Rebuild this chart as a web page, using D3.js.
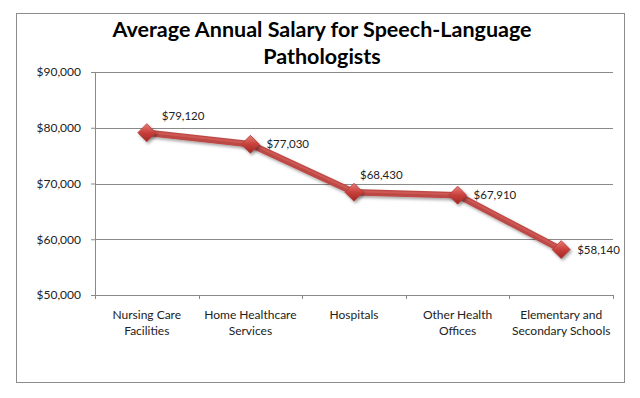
<!DOCTYPE html>
<html>
<head>
<meta charset="utf-8">
<script src="https://cdn.jsdelivr.net/npm/d3@7"></script>
<style>
  body { margin: 0; background: #fff; }
  text { font-family: Lato, "Open Sans", sans-serif; }
</style>
</head>
<body>
<div id="chart"></div>
<script>
const categories = [
    ["Nursing Care", "Facilities"],
    ["Home Healthcare", "Services"],
    ["Hospitals"],
    ["Other Health", "Offices"],
    ["Elementary and", "Secondary Schools"]
];
const salaries = [79120, 77030, 68430, 67910, 58140];
const yTicks = [50000, 60000, 70000, 80000, 90000];
const titleLines = ["Average Annual Salary for Speech-Language", "Pathologists"];
// where each data label sits relative to its point
const labelSide = ["aboveRight", "right", "above", "right", "right"];

const W = 640, H = 398;
const margin = { top: 72, right: 27, bottom: 103, left: 95 };
const width = W - margin.left - margin.right;
const height = H - margin.top - margin.bottom;

const svg = d3.select("#chart")
    .append("svg")
    .attr("width", W)
    .attr("height", H);

const defs = svg.append("defs");
const grad = defs.append("linearGradient")
    .attr("id", "diamondFill")
    .attr("x1", "0").attr("y1", "0").attr("x2", "0").attr("y2", "1");
grad.append("stop").attr("offset", "0%").attr("stop-color", "#ea7d78");
grad.append("stop").attr("offset", "50%").attr("stop-color", "#c8403b");
grad.append("stop").attr("offset", "100%").attr("stop-color", "#a02824");

const shadow = defs.append("filter").attr("id", "shadow")
    .attr("x", "-30%").attr("y", "-30%").attr("width", "160%").attr("height", "160%");
shadow.append("feDropShadow")
    .attr("dx", 1.5).attr("dy", 2).attr("stdDeviation", 1.5)
    .attr("flood-color", "#000").attr("flood-opacity", 0.35);

// chart frame
svg.append("rect")
    .attr("x", 16.5).attr("y", 13.5)
    .attr("width", 608).attr("height", 369)
    .attr("fill", "#fff")
    .attr("stroke", "#8c8c8c");

svg.append("text")
    .attr("x", 322)
    .attr("y", 37)
    .attr("text-anchor", "middle")
    .attr("font-weight", "bold")
    .attr("font-size", 21.5)
    .attr("fill", "#000")
    .selectAll("tspan")
    .data(titleLines)
    .join("tspan")
    .attr("x", 322)
    .attr("dy", (d, i) => i === 0 ? 0 : 27)
    .text(d => d);

const g = svg.append("g")
    .attr("transform", `translate(${margin.left},${margin.top})`);

const x = d3.scaleBand()
    .domain(d3.range(categories.length))
    .range([0, width]);

const y = d3.scaleLinear()
    .domain([50000, 90000])
    .range([height, 0]);

// gridlines
g.selectAll(".grid")
    .data(yTicks.slice(1))
    .join("line")
    .attr("class", "grid")
    .attr("x1", 0).attr("x2", width)
    .attr("y1", d => Math.round(y(d)) + 0.5)
    .attr("y2", d => Math.round(y(d)) + 0.5)
    .attr("stroke", "#8a8a8a");

const yAxis = g.append("g")
    .call(d3.axisLeft(y).tickValues(yTicks).tickSize(4).tickPadding(10)
        .tickFormat(d => "$" + d3.format(",")(d)));
yAxis.select(".domain").attr("stroke", "#8a8a8a");
yAxis.selectAll(".tick line").attr("stroke", "#8a8a8a");
yAxis.selectAll("text").attr("font-size", 12).attr("fill", "#222")
    .style("font-family", "Lato, 'Open Sans', sans-serif");

const xAxis = g.append("g")
    .attr("transform", `translate(0,${height})`)
    .call(d3.axisBottom(x).tickSize(0).tickFormat(""));
xAxis.select(".domain").attr("stroke", "#8a8a8a");

// tick marks between categories
g.selectAll(".xtick")
    .data(d3.range(categories.length + 1))
    .join("line")
    .attr("class", "xtick")
    .attr("x1", i => Math.round(i * x.step()) + 0.5)
    .attr("x2", i => Math.round(i * x.step()) + 0.5)
    .attr("y1", height)
    .attr("y2", height + 4)
    .attr("stroke", "#8a8a8a");

g.selectAll(".xlabel")
    .data(categories)
    .join("text")
    .attr("class", "xlabel")
    .attr("text-anchor", "middle")
    .attr("font-size", 12)
    .attr("fill", "#222")
    .attr("y", height + 24)
    .selectAll("tspan")
    .data((d, i) => d.map(t => ({ t, i })))
    .join("tspan")
    .attr("x", d => x(d.i) + x.bandwidth() / 2)
    .attr("dy", (d, j) => j === 0 ? 0 : 16)
    .text(d => d.t);

const pts = salaries.map((v, i) => [x(i) + x.bandwidth() / 2, y(v)]);

g.append("path")
    .datum(pts)
    .attr("d", d3.line())
    .attr("fill", "none")
    .attr("stroke", "#bd4a46")
    .attr("stroke-width", 6.5)
    .attr("stroke-linejoin", "round")
    .attr("filter", "url(#shadow)");

g.append("path")
    .datum(pts)
    .attr("d", d3.line())
    .attr("fill", "none")
    .attr("stroke", "#d8625e")
    .attr("stroke-width", 2)
    .attr("opacity", 0.6)
    .attr("transform", "translate(0,-1)");

g.selectAll(".marker")
    .data(pts)
    .join("path")
    .attr("class", "marker")
    .attr("transform", d => `translate(${d[0]},${d[1]})`)
    .attr("d", "M0,-9L9,0L0,9L-9,0Z")
    .attr("fill", "url(#diamondFill)")
    .attr("stroke", "#b33a36")
    .attr("stroke-width", 0.8)
    .attr("filter", "url(#shadow)");

const offsets = {
    aboveRight: { dx: 15, dy: -13, anchor: "start" },
    right: { dx: 16, dy: 4, anchor: "start" },
    above: { dx: 6, dy: -13, anchor: "start" }
};

g.selectAll(".dlabel")
    .data(salaries)
    .join("text")
    .attr("class", "dlabel")
    .attr("x", (d, i) => pts[i][0] + offsets[labelSide[i]].dx)
    .attr("y", (d, i) => pts[i][1] + offsets[labelSide[i]].dy)
    .attr("text-anchor", (d, i) => offsets[labelSide[i]].anchor)
    .attr("font-size", 11.5)
    .attr("fill", "#222")
    .text(d => "$" + d3.format(",")(d));
</script>
</body>
</html>
